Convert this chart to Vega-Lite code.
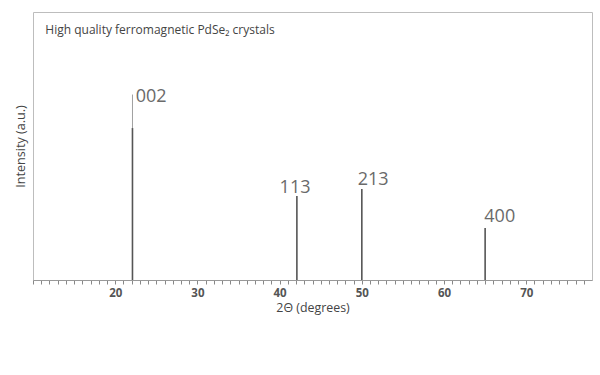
{
  "$schema": "https://vega.github.io/schema/vega-lite/v6.json",
  "autosize": {"type": "none"},
  "width": 559,
  "height": 268,
  "padding": {"left": 33, "top": 12, "right": 8, "bottom": 95},
  "background": "white",
  "config": {
    "view": {"stroke": "#bdbdbd", "strokeWidth": 1},
    "font": "Open Sans"
  },
  "datasets": {
    "peaks": [
      {"hkl": "002", "angle": 22.1, "intensity": 56.7, "leader": 69.2, "labelY": 64.8, "labelX": 22.5},
      {"hkl": "113", "angle": 42.1, "intensity": 31.3, "leader": 31.3, "labelY": 31.0, "labelX": 40.0},
      {"hkl": "213", "angle": 50.0, "intensity": 34.0, "leader": 34.0, "labelY": 34.0, "labelX": 49.5},
      {"hkl": "400", "angle": 65.0, "intensity": 19.4, "leader": 19.4, "labelY": 20.0, "labelX": 64.9}
    ],
    "caption": [
      {"text": "High quality ferromagnetic PdSe₂ crystals", "x": 11.5, "y": 93.3}
    ]
  },
  "layer": [
    {
      "data": {"name": "peaks"},
      "mark": {"type": "rule", "color": "#a0a0a0", "strokeWidth": 1},
      "encoding": {
        "x": {
          "field": "angle", "type": "quantitative",
          "scale": {"domain": [10, 78], "nice": false, "zero": false},
          "axis": {
            "title": "2Θ (degrees)",
            "titleFont": "Open Sans",
            "titleFontSize": 12.4,
            "titleFontWeight": "normal",
            "titleColor": "#444",
            "titlePadding": 3,
            "tickCount": 200,
            "format": "d",
            "values": [10,11,12,13,14,15,16,17,18,19,20,21,22,23,24,25,26,27,28,29,30,31,32,33,34,35,36,37,38,39,40,41,42,43,44,45,46,47,48,49,50,51,52,53,54,55,56,57,58,59,60,61,62,63,64,65,66,67,68,69,70,71,72,73,74,75,76,77],
            "labelExpr": "datum.value % 10 == 0 && datum.value > 10 ? datum.label : ''",
            "labelOverlap": false,
            "labelFontWeight": "bold",
            "labelFontSize": 11.5,
            "labelColor": "#555",
            "labelPadding": 3,
            "tickSize": 4,
            "tickColor": "#888",
            "domainColor": "#999",
            "grid": false
          }
        },
        "y": {
          "field": "intensity", "type": "quantitative",
          "scale": {"domain": [0, 100], "nice": false},
          "axis": {
            "title": "Intensity (a.u.)",
            "titleFont": "Open Sans",
            "titleFontSize": 12.6,
            "titleFontWeight": "normal",
            "titleColor": "#444",
            "labels": false,
            "ticks": false,
            "domain": false,
            "grid": false,
            "titlePadding": 6
          }
        },
        "y2": {"field": "leader"}
      }
    },
    {
      "data": {"name": "peaks"},
      "mark": {"type": "rule", "color": "#555", "strokeWidth": 1.6},
      "encoding": {
        "x": {"field": "angle", "type": "quantitative"},
        "y": {"field": "intensity", "type": "quantitative"},
        "y2": {"datum": 0}
      }
    },
    {
      "data": {"name": "peaks"},
      "mark": {"type": "text", "fontSize": 18, "color": "#6a6a6a", "align": "left", "baseline": "bottom", "font": "Open Sans"},
      "encoding": {
        "x": {"field": "labelX", "type": "quantitative"},
        "y": {"field": "labelY", "type": "quantitative"},
        "text": {"field": "hkl"}
      }
    },
    {
      "data": {"name": "caption"},
      "mark": {"type": "text", "fontSize": 12, "color": "#444", "align": "left", "baseline": "middle", "font": "Open Sans"},
      "encoding": {
        "x": {"field": "x", "type": "quantitative"},
        "y": {"field": "y", "type": "quantitative"},
        "text": {"field": "text"}
      }
    }
  ]
}
